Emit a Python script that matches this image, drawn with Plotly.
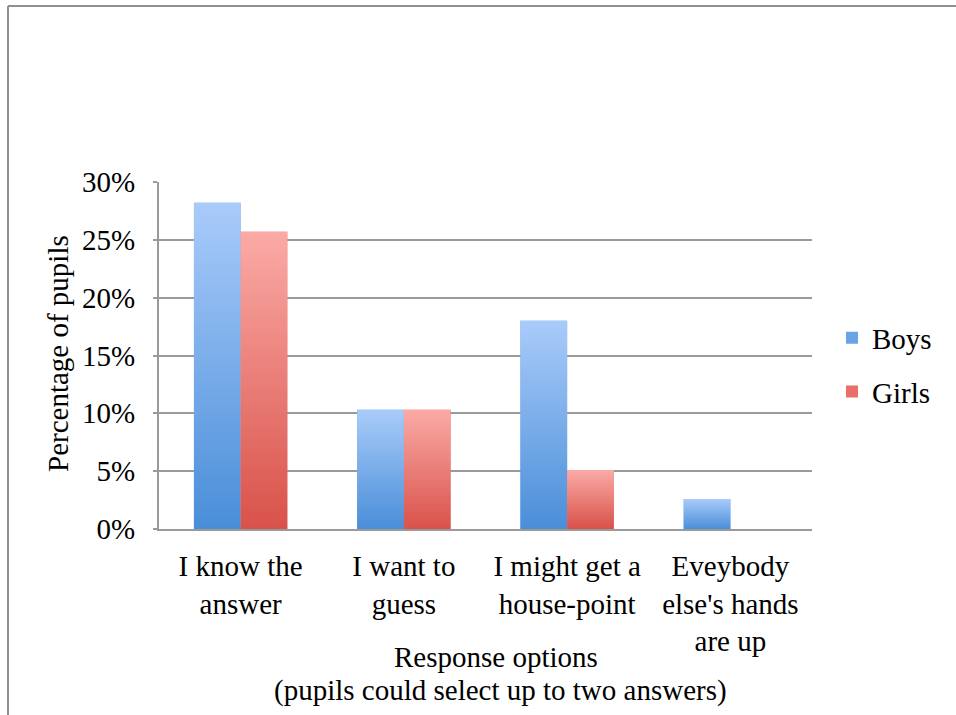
import plotly.graph_objects as go

# ---- data -------------------------------------------------------------
categories = [
    "I know the<br>answer",
    "I want to<br>guess",
    "I might get a<br>house-point",
    "Eveybody<br>else's hands<br>are up",
]
boys = [28.2, 10.3, 18.0, 2.6]
girls = [25.7, 10.3, 5.1, 0.0]
y_ticks = [0, 5, 10, 15, 20, 25, 30]
y_tick_labels = [f"{v}%" for v in y_ticks]

# ---- layout geometry (pixels) ------------------------------------------
W, H = 956, 715
L, R, T, B = 159, 144, 182, 186
PW, PH = W - L - R, H - T - B


def px2x(px):
    return (px - L) / PW


def py2y(py):
    return (H - B - py) / PH


FONT = "Liberation Serif, Times New Roman, serif"
FS = 29
GRID = "#9a9a9a"

BARGAP = 0.428
BAR_W = (1 - BARGAP) / 2  # width of a single bar in category units

series = [
    # name, values, offset side, bottom colour, top colour, legend colour
    ("Boys", boys, -1, "#4a8ed8", "#a9cbfa", "#6aa3e6"),
    ("Girls", girls, 0, "#d8524a", "#fbaaa6", "#e7706a"),
]

fig = go.Figure()
xs = list(range(len(categories)))

# plain grouped bars (also provide the legend entries)
for name, vals, side, dark, light, mid in series:
    fig.add_trace(go.Bar(
        x=xs, y=vals, name=name,
        marker=dict(color=mid, line=dict(width=0)),
        legendgroup=name, hoverinfo="skip",
    ))

# vertical gradient fill laid over each bar
for name, vals, side, dark, light, mid in series:
    for i, v in enumerate(vals):
        if v <= 0:
            continue
        x0 = i + side * BAR_W
        x1 = x0 + BAR_W
        fig.add_trace(go.Scatter(
            x=[x0, x1, x1, x0, x0], y=[0, 0, v, v, 0],
            mode="none", fill="toself",
            fillgradient=dict(type="vertical",
                              colorscale=[[0, dark], [1, light]],
                              start=0, stop=v),
            legendgroup=name, showlegend=False, hoverinfo="skip",
        ))

fig.update_layout(
    width=W, height=H,
    margin=dict(l=L, r=R, t=T, b=B, pad=0),
    paper_bgcolor="white", plot_bgcolor="white",
    font=dict(family=FONT, size=FS, color="black"),
    barmode="group", bargap=BARGAP, bargroupgap=0,
    showlegend=True,
    legend=dict(
        x=px2x(832), y=py2y(365), xanchor="left", yanchor="middle",
        traceorder="grouped", tracegroupgap=13,
        font=dict(family=FONT, size=FS, color="black"),
        bgcolor="rgba(0,0,0,0)",
    ),
    xaxis=dict(
        range=[-0.5, len(categories) - 0.5],
        tickmode="array", tickvals=xs, ticktext=categories,
        showgrid=False, zeroline=False,
        showline=True, linecolor=GRID, linewidth=2,
        ticks="", ticklabelstandoff=10,
        tickfont=dict(family=FONT, size=FS, color="black"),
        fixedrange=True,
    ),
    yaxis=dict(
        range=[0, 30],
        tickmode="array", tickvals=y_ticks, ticktext=y_tick_labels,
        showgrid=True, gridcolor=GRID, gridwidth=2,
        zeroline=False,
        showline=True, linecolor=GRID, linewidth=2,
        ticks="outside", ticklen=4, tickwidth=2, tickcolor=GRID,
        ticklabelstandoff=12,
        tickfont=dict(family=FONT, size=FS, color="black"),
        fixedrange=True,
    ),
    annotations=[
        dict(text="Percentage of pupils", textangle=-90,
             x=px2x(58), y=py2y(354), xref="paper", yref="paper",
             xanchor="center", yanchor="middle", showarrow=False,
             font=dict(family=FONT, size=FS, color="black")),
        dict(text="Response options",
             x=px2x(496), y=py2y(657), xref="paper", yref="paper",
             xanchor="center", yanchor="middle", showarrow=False,
             font=dict(family=FONT, size=FS, color="black")),
        dict(text="(pupils could select up to two answers)",
             x=px2x(500), y=py2y(690), xref="paper", yref="paper",
             xanchor="center", yanchor="middle", showarrow=False,
             font=dict(family=FONT, size=FS, color="black")),
    ],
    shapes=[
        # outer frame (top and left edges)
        dict(type="line", xref="paper", yref="paper",
             x0=px2x(8), x1=px2x(W + 5), y0=py2y(6), y1=py2y(6),
             line=dict(color="#8f8f8f", width=2)),
        dict(type="line", xref="paper", yref="paper",
             x0=px2x(8), x1=px2x(8), y0=py2y(6), y1=py2y(H + 5),
             line=dict(color="#8f8f8f", width=2)),
    ],
)

fig.write_html("out.html", config={"displayModeBar": False})
